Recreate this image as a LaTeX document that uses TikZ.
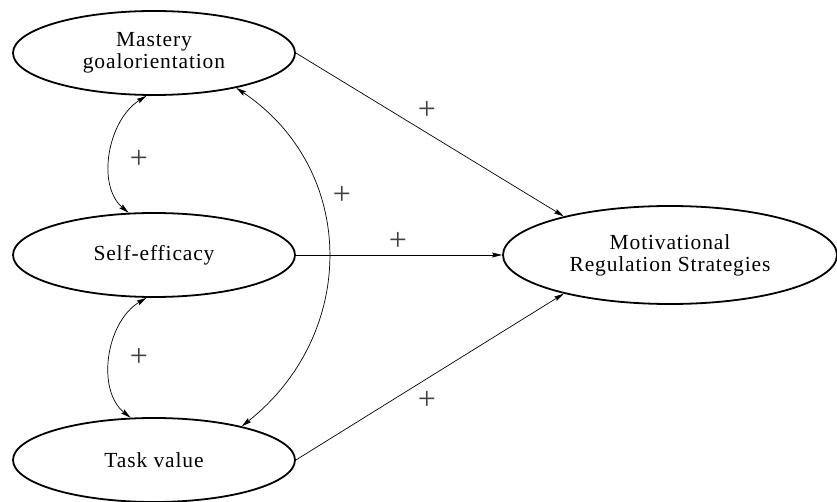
\documentclass[tikz,border=0pt]{standalone}
\usepackage{fontspec}
\setmainfont{Liberation Serif}[LetterSpace=4]
\usetikzlibrary{shapes.geometric,arrows.meta}
\begin{document}
\begin{tikzpicture}[x=1pt,y=-1pt,
  var/.style={ellipse,draw=black,line width=1.8pt,inner sep=0pt,align=center,
    font=\fontsize{21.5}{22}\selectfont},
  tip/.style={},
  link/.style={line width=0.7pt,-{Stealth[length=10pt,width=5pt,inset=1.5pt]}},
  dlink/.style={line width=0.7pt,{Stealth[length=10pt,width=5pt,inset=1.5pt]}-{Stealth[length=10pt,width=5pt,inset=1.5pt]}},
  sign/.style={font=\fontsize{32}{32}\selectfont,text=black!75,inner sep=0pt}]
\useasboundingbox (0,0) rectangle (837,502);
\node[var,minimum width=282pt,minimum height=84pt] (m) at (154,53) {Mastery\\goalorientation};
\node[var,minimum width=282pt,minimum height=84pt] (s) at (154,255) {Self-efficacy};
\node[var,minimum width=282pt,minimum height=84pt] (t) at (154,460) {Task value};
\node[var,minimum width=334pt,minimum height=98pt] (r) at (670,255) {Motivational\\Regulation Strategies};
\draw[link] (m.east) -- (r.160);
\draw[link] (s.east) -- (r.west);
\draw[link] (t.east) -- (r.-160);
\draw[dlink] (m.-100) .. controls (108,120) and (96,185) .. (s.121);
\draw[dlink] (s.-100) .. controls (106,322) and (96,390) .. (t.119);
\draw[dlink] (m.-23) .. controls (358,170) and (358,334) .. (t.21);
\node[sign] (p1) at (139,159) {+};
\node[sign] (p2) at (139,357) {+};
\node[sign] (p3) at (342,195) {+};
\node[sign] (p4) at (427,110) {+};
\node[sign] (p5) at (398,241) {+};
\node[sign] (p6) at (427,400) {+};
\end{tikzpicture}
\end{document}
